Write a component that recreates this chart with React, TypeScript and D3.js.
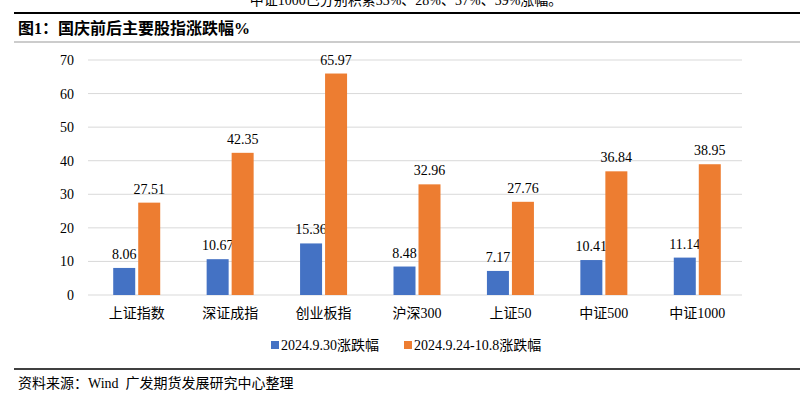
import { useEffect, useRef } from 'react'
import * as d3 from 'd3'

const categories = ['上证指数', '深证成指', '创业板指', '沪深300', '上证50', '中证500', '中证1000']
const day930 = [8.06, 10.67, 15.36, 8.48, 7.17, 10.41, 11.14]
const window924 = [27.51, 42.35, 65.97, 32.96, 27.76, 36.84, 38.95]
const seriesNames = ['2024.9.30涨跌幅', '2024.9.24-10.8涨跌幅']
const yTicks = [0, 10, 20, 30, 40, 50, 60, 70]

const BLUE = '#4472C4'
const ORANGE = '#ED7D31'
const FONT = '"Liberation Serif", "Times New Roman", "Noto Sans CJK SC", serif'

export default function App() {
  const svgRef = useRef<SVGSVGElement>(null)

  useEffect(() => {
    if (!svgRef.current) return
    const svg = d3.select(svgRef.current)
    svg.selectAll('*').remove()

    const W = 811, H = 396
    svg.attr('width', W).attr('height', H)

    // header text (cut at top, as in the page it came from) and title
    svg.append('text').attr('x', 406).attr('y', 5)
      .attr('text-anchor', 'middle').attr('font-size', 14).attr('fill', '#000')
      .text('中证1000已分别积累33%、28%、37%、39%涨幅。')
    svg.append('line').attr('x1', 14).attr('x2', 800).attr('y1', 13).attr('y2', 13)
      .attr('stroke', '#000').attr('stroke-width', 2)
    svg.append('text').attr('x', 18).attr('y', 34)
      .attr('font-size', 16).attr('font-weight', 'bold').attr('fill', '#000')
      .text('图1：国庆前后主要股指涨跌幅%')
    svg.append('line').attr('x1', 14).attr('x2', 800).attr('y1', 42).attr('y2', 42)
      .attr('stroke', '#999').attr('stroke-width', 1)

    const x0 = d3.scaleBand().domain(categories).range([88, 742])
    const y = d3.scaleLinear().domain([0, 70]).range([295, 60])
    const x1 = d3.scaleBand().domain(['a', 'b']).range([0, 47]).paddingInner(0.12)
    const groupOff = (x0.bandwidth() - 47) / 2 + 2

    // grid + y labels
    yTicks.forEach(t => {
      svg.append('line').attr('x1', 88).attr('x2', 742)
        .attr('y1', y(t)).attr('y2', y(t))
        .attr('stroke', '#d9d9d9').attr('stroke-width', 1)
      svg.append('text').attr('x', 74).attr('y', y(t) + 5)
        .attr('text-anchor', 'end').attr('font-size', 14).attr('fill', '#000')
        .text(t)
    })

    const series = [
      { key: 'a', vals: day930, color: BLUE },
      { key: 'b', vals: window924, color: ORANGE },
    ]

    categories.forEach((c, i) => {
      series.forEach(s => {
        const bx = x0(c)! + groupOff + x1(s.key)!
        const v = s.vals[i]
        svg.append('rect')
          .attr('x', bx).attr('y', y(v))
          .attr('width', x1.bandwidth()).attr('height', y(0) - y(v))
          .attr('fill', s.color)
        svg.append('text')
          .attr('x', bx + x1.bandwidth() / 2).attr('y', y(v) - 9)
          .attr('text-anchor', 'middle').attr('font-size', 14).attr('fill', '#000')
          .text(v.toFixed(2))
      })
      svg.append('text')
        .attr('x', x0(c)! + x0.bandwidth() / 2 + 2).attr('y', 318)
        .attr('text-anchor', 'middle').attr('font-size', 14).attr('fill', '#000')
        .text(c)
    })

    // legend
    const legend = [
      { name: seriesNames[0], color: BLUE, x: 271 },
      { name: seriesNames[1], color: ORANGE, x: 404 },
    ]
    legend.forEach(l => {
      svg.append('rect').attr('x', l.x).attr('y', 341).attr('width', 8).attr('height', 8)
        .attr('fill', l.color)
      svg.append('text').attr('x', l.x + 10).attr('y', 350)
        .attr('font-size', 14).attr('fill', '#000').text(l.name)
    })

    svg.append('line').attr('x1', 14).attr('x2', 800).attr('y1', 369).attr('y2', 369)
      .attr('stroke', '#000').attr('stroke-width', 1.5)
    svg.append('text').attr('x', 18).attr('y', 388)
      .attr('font-size', 14).attr('fill', '#000')
      .text('资料来源：Wind\u00a0\u00a0广发期货发展研究中心整理')
  }, [])

  return (
    <svg ref={svgRef} style={{ position: 'absolute', left: 0, top: 0, fontFamily: FONT, background: '#fff' }} />
  )
}
